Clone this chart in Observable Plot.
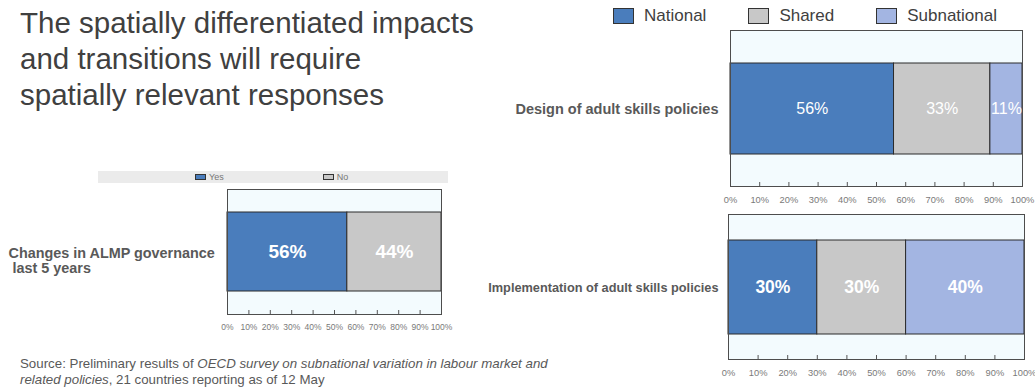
<!DOCTYPE html>
<html>
<head>
<meta charset="utf-8">
<script src="https://cdn.jsdelivr.net/npm/d3@7"></script>
<script src="https://cdn.jsdelivr.net/npm/@observablehq/plot@0.6"></script>
<style>
  html, body { margin: 0; padding: 0; background: #fff; }
  #page { position: relative; width: 1035px; height: 387px; overflow: hidden; background: #fff;
          font-family: 'Liberation Sans', Arial, Helvetica, sans-serif; }
  .abs { position: absolute; }
  .title { left: 20px; top: 5px; font-size: 29.5px; line-height: 36px; color: #404040; white-space: nowrap; }
  .source { left: 20px; top: 356px; font-size: 13.3px; line-height: 16px; color: #595959; white-space: nowrap; }
  .legR { left: 613px; top: 6px; display: flex; align-items: center; gap: 42px; font-size: 17px; color: #404040; }
  .legR .item { display: flex; align-items: center; }
  .legR .sw { width: 21px; height: 16px; border: 1px solid #333; margin-right: 10px; box-sizing: border-box; }
  .legLbg { left: 98px; top: 171px; width: 350px; height: 12px; background: #ebebeb; }
  .legL { left: 195px; top: 171px; height: 12px; display: flex; align-items: center; gap: 99px; font-size: 9px; color: #777; }
  .legL .item { display: flex; align-items: center; }
  .legL .sw { width: 11px; height: 6px; border: 1px solid #333; margin-right: 3px; box-sizing: border-box; }
  svg text { white-space: pre; }
</style>
</head>
<body>
<div id="page">
  <div class="abs title">The spatially differentiated impacts<br>and transitions will require<br>spatially relevant responses</div>
  <div class="abs legR" id="legR"></div>
  <div class="abs legLbg"></div>
  <div class="abs legL" id="legL"></div>
  <div class="abs" id="chartDesign" style="left:480px;top:25px;"></div>
  <div class="abs" id="chartImpl" style="left:460px;top:209px;"></div>
  <div class="abs" id="chartAlmp" style="left:0px;top:184px;"></div>
  <div class="abs source">Source: Preliminary results of <i>OECD survey on subnational variation in labour market and<br>related policies</i>, 21 countries reporting as of 12 May</div>
</div>
<script>
// ---- data ----
const levels = ["National", "Shared", "Subnational"];
const levelColors = ["#4a7dbc", "#c8c8c8", "#a3b5e2"];
const designCategory = "Design of adult skills policies";
const designValues = [56, 33, 11];
const implCategory = "Implementation of adult skills policies";
const implValues = [30, 30, 40];
const almpCategory = "Changes in ALMP governance\n last 5 years";
const answers = ["Yes", "No"];
const answerColors = ["#4a7dbc", "#c8c8c8"];
const almpValues = [56, 44];
const tickValues = [0, 10, 20, 30, 40, 50, 60, 70, 80, 90, 100];

const FONT = "'Liberation Sans', Arial, Helvetica, sans-serif";

function rowsFor(category, keys, values) {
  return keys.map((k, i) => ({category, key: k, value: values[i]}));
}

function stackedChart(o) {
  const rows = rowsFor(o.category, o.keys, o.values);
  const minor = tickValues.slice(1, -1);
  return Plot.plot({
    width: o.marginLeft + o.frameWidth + o.marginRight,
    height: o.marginTop + o.frameHeight + o.marginBottom,
    marginLeft: o.marginLeft, marginRight: o.marginRight,
    marginTop: o.marginTop, marginBottom: o.marginBottom,
    style: {fontFamily: FONT, background: "transparent", overflow: "visible", maxWidth: "none"},
    x: {domain: [0, 100]},
    y: {domain: [o.category], padding: o.padding},
    color: {domain: o.keys, range: o.colors},
    marks: [
      Plot.frame({fill: "#f3fbfe", stroke: "none"}),
      Plot.barX(rows, Plot.stackX({x: "value", y: "category", fill: "key", stroke: "#2b2b2b", strokeWidth: 1})),
      Plot.text(rows, Plot.stackX({x: "value", y: "category", text: d => d.value + "%", fill: "white",
        fontSize: o.valueSize, fontWeight: o.valueWeight})),
      Plot.tickX(minor, {x: d => d, insetTop: o.frameHeight - 4, stroke: "#555"}),
      Plot.frame({stroke: "#4d4d4d"}),
      Plot.axisX(tickValues, {tickSize: 0, tickPadding: o.tickPadding, tickFormat: d => d + "%",
        fontSize: o.tickSize, fill: "#7a7a7a", label: null}),
      Plot.axisY({tickSize: 0, label: null, fontSize: o.catSize, fontWeight: "bold", fill: "#595959",
        ...(o.axisY || {})})
    ]
  });
}

document.getElementById("chartDesign").append(stackedChart({
  category: designCategory, keys: levels, values: designValues, colors: levelColors,
  marginLeft: 250, marginRight: 13, marginTop: 5, marginBottom: 25, frameWidth: 292, frameHeight: 156,
  padding: 0.263, valueSize: 16, valueWeight: "normal", tickSize: 9.3, tickPadding: 9.5, catSize: 14.5,
  axisY: {tickPadding: 12}
}));

document.getElementById("chartImpl").append(stackedChart({
  category: implCategory, keys: levels, values: implValues, colors: levelColors,
  marginLeft: 268, marginRight: 11, marginTop: 5, marginBottom: 25, frameWidth: 296, frameHeight: 145,
  padding: 0.213, valueSize: 17.5, valueWeight: "bold", tickSize: 9.3, tickPadding: 9.5, catSize: 12.75,
  axisY: {tickPadding: 10}
}));

document.getElementById("chartAlmp").append(stackedChart({
  category: almpCategory, keys: answers, values: almpValues, colors: answerColors,
  marginLeft: 227, marginRight: 14, marginTop: 5, marginBottom: 22, frameWidth: 214, frameHeight: 125,
  padding: 0.225, valueSize: 19, valueWeight: "bold", tickSize: 8.5, tickPadding: 9, catSize: 14.4,
  axisY: {tickPadding: 0, textAnchor: "start", dx: -219, dy: 9, lineHeight: 1.05}
}));

// ---- legends ----
function legend(el, keys, colors) {
  keys.forEach((k, i) => {
    const item = document.createElement("div");
    item.className = "item";
    const sw = document.createElement("div");
    sw.className = "sw";
    sw.style.background = colors[i];
    const t = document.createElement("span");
    t.textContent = k;
    item.append(sw, t);
    el.append(item);
  });
}
legend(document.getElementById("legR"), levels, levelColors);
legend(document.getElementById("legL"), answers, answerColors);
</script>
</body>
</html>
